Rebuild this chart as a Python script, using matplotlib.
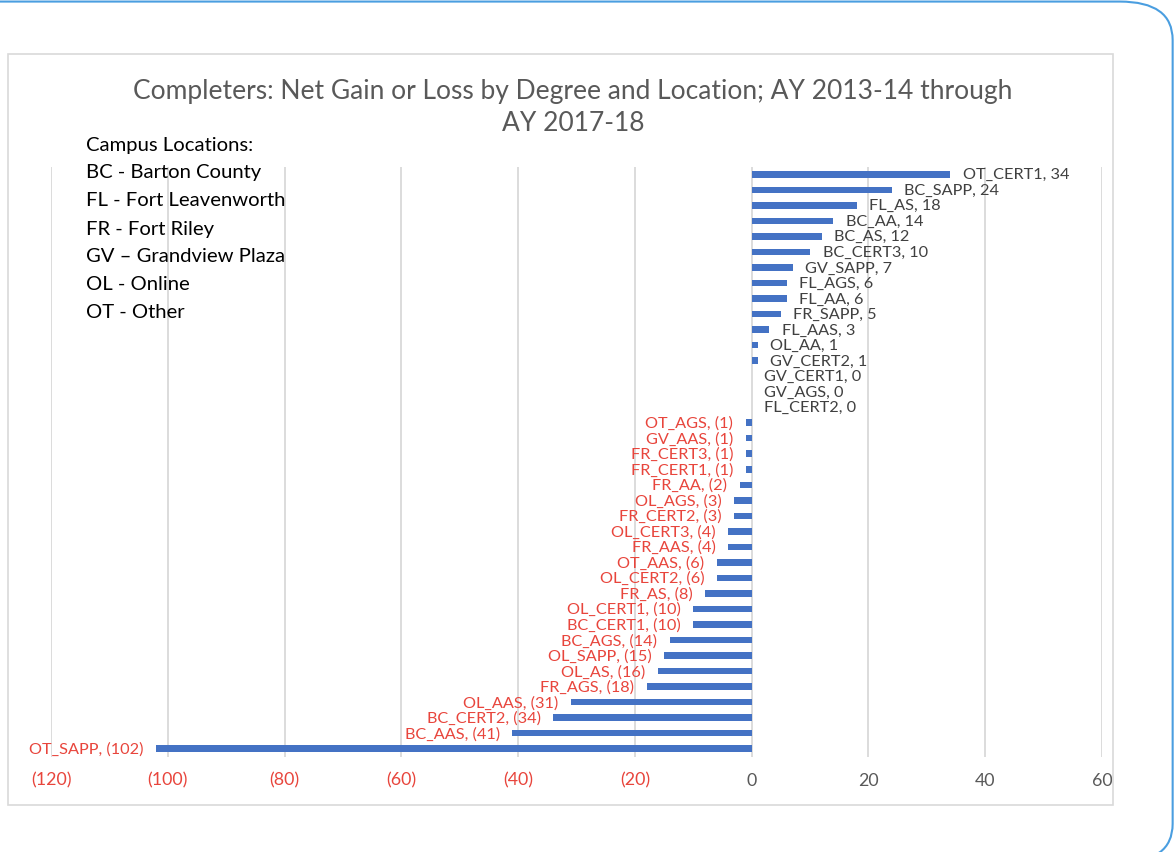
import matplotlib.pyplot as plt
from matplotlib.patches import FancyBboxPatch, Rectangle
import numpy as np

plt.rcParams['font.family'] = ['Lato', 'DejaVu Sans']

# Data, top to bottom
programs = ['OT_CERT1', 'BC_SAPP', 'FL_AS', 'BC_AA', 'BC_AS', 'BC_CERT3',
            'GV_SAPP', 'FL_AGS', 'FL_AA', 'FR_SAPP', 'FL_AAS', 'OL_AA',
            'GV_CERT2', 'GV_CERT1', 'GV_AGS', 'FL_CERT2', 'OT_AGS', 'GV_AAS',
            'FR_CERT3', 'FR_CERT1', 'FR_AA', 'OL_AGS', 'FR_CERT2', 'OL_CERT3',
            'FR_AAS', 'OT_AAS', 'OL_CERT2', 'FR_AS', 'OL_CERT1', 'BC_CERT1',
            'BC_AGS', 'OL_SAPP', 'OL_AS', 'FR_AGS', 'OL_AAS', 'BC_CERT2',
            'BC_AAS', 'OT_SAPP']
net_change = [34, 24, 18, 14, 12, 10, 7, 6, 6, 5, 3, 1, 1, 0, 0, 0,
              -1, -1, -1, -1, -2, -3, -3, -4, -4, -6, -6, -8, -10, -10,
              -14, -15, -16, -18, -31, -34, -41, -102]
xticks = [-120, -100, -80, -60, -40, -20, 0, 20, 40, 60]
locations = ['Campus Locations:', 'BC - Barton County', 'FL - Fort Leavenworth',
             'FR - Fort Riley', 'GV \u2013 Grandview Plaza', 'OL - Online',
             'OT - Other']

BLUE = '#4472C4'
RED = '#E8453C'
GRAY = '#595959'


def fmt(v):
    return '(%d)' % -v if v < 0 else '%d' % v


fig = plt.figure(figsize=(11.75, 8.53), dpi=100)

# Outer rounded frame (runs off the left and bottom edges) and chart border
fig.patches.append(FancyBboxPatch((-0.05, -0.012), 1.048, 1.009,
                                  boxstyle='round,pad=0,rounding_size=0.045',
                                  transform=fig.transFigure, fill=False,
                                  ec='#4a9ee0', lw=1.5))
fig.patches.append(Rectangle((8 / 1175, 1 - 806 / 853), 1105 / 1175, 751 / 853,
                             transform=fig.transFigure, fill=False,
                             ec='#d9d9d9', lw=1.2))

ax = fig.add_axes([51 / 1175, 1 - 757.5 / 853, 1051 / 1175, 590 / 853])

y = np.arange(len(programs))
ax.barh(y, net_change, height=0.42, color=BLUE, zorder=3)

for yi, name, v in zip(y, programs, net_change):
    if v < 0:
        ax.annotate('%s, %s' % (name, fmt(v)), (v, yi), xytext=(-9, 0),
                    textcoords='offset points', ha='right', va='center',
                    color=RED, fontsize=11.7, zorder=4)
    else:
        ax.annotate('%s, %s' % (name, fmt(v)), (v, yi), xytext=(9, 0),
                    textcoords='offset points', ha='left', va='center',
                    color='#404040', fontsize=11.7, zorder=4)

ax.set_xlim(-120, 60)
ax.set_ylim(len(programs) - 0.5, -0.5)
ax.set_xticks(xticks)
ax.set_xticklabels([fmt(t) for t in xticks])
for lbl, t in zip(ax.get_xticklabels(), xticks):
    lbl.set_color(RED if t < 0 else GRAY)
ax.tick_params(axis='x', length=0, labelsize=12.8, pad=11)
ax.set_yticks([])
ax.grid(axis='x', color='#d9d9d9', lw=1.3, zorder=0)
for s in ax.spines.values():
    s.set_visible(False)

fig.text(573 / 1175, 1 - 107.5 / 853,
         'Completers: Net Gain or Loss by Degree and Location; AY 2013-14 through\nAY 2017-18',
         ha='center', va='center', fontsize=19, color=GRAY, linespacing=1.33)

for i, line in enumerate(locations):
    fig.text(86 / 1175, 1 - (145 + 28 * i) / 853, line, ha='left', va='center',
             fontsize=14.6, color='black')

fig.savefig('out.png', dpi=100)
